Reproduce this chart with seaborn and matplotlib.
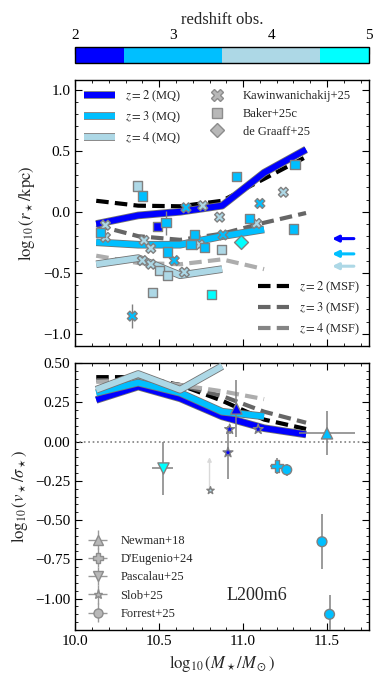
import numpy as np
import pandas as pd
import matplotlib
matplotlib.use("Agg")
import matplotlib.pyplot as plt
import matplotlib.patheffects as pe
from matplotlib.colors import ListedColormap, BoundaryNorm
from matplotlib.colorbar import ColorbarBase
from matplotlib.lines import Line2D
from matplotlib.legend_handler import HandlerErrorbar
from matplotlib.ticker import MultipleLocator
import seaborn as sns

# ---- simulation medians (mass bins) ----
mass_bins = [10.125, 10.375, 10.625, 10.875, 11.125, 11.375]

size_mq_z2 = [-0.10, -0.03, 0.00, 0.05, 0.32, 0.51]
size_mq_z3 = [-0.25, -0.27, -0.27, -0.20, -0.145]
size_mq_z4 = [-0.43, -0.38, -0.52, -0.47]
size_msf_z2 = [0.09, 0.05, 0.045, 0.09, 0.27, 0.45]
size_msf_z3 = [-0.11, -0.20, -0.23, -0.18, -0.09, -0.01]
size_msf_z4 = [-0.36, -0.42, -0.43, -0.39, -0.47]

vsig_mq_z2 = [0.265, 0.35, 0.275, 0.16, 0.085, 0.045]
vsig_mq_z3 = [0.31, 0.375, 0.31, 0.19, 0.16]
vsig_mq_z4 = [0.33, 0.43, 0.33, 0.48]
vsig_msf_z2 = [0.41, 0.41, 0.36, 0.26, 0.14, 0.08]
vsig_msf_z3 = [0.39, 0.39, 0.36, 0.29, 0.19, 0.12]
vsig_msf_z4 = [0.38, 0.39, 0.36, 0.32, 0.27]

# arrows on the right of the size panel
arrow_z = [2.2, 3.0, 4.0]
arrow_size = [-0.22, -0.345, -0.446]
arrow_x = [11.66, 11.53]

# ---- observations: sizes ----
kaw_mass = [10.18, 10.18, 10.41, 10.45, 10.59, 10.40, 10.45, 10.65, 10.66,
            10.76, 10.74, 10.86, 10.88, 11.08, 11.10, 11.24, 10.34]
kaw_size = [-0.11, -0.21, -0.235, -0.30, -0.40, -0.40, -0.43, -0.495, 0.033,
            0.05, -0.27, -0.044, -0.19, -0.096, 0.068, 0.16, -0.855]
kaw_z = [4, 4, 4, 4, 3, 4, 4, 4, 3, 4, 4, 4, 3, 4, 3, 4, 3]
kaw_err = [0, 0, 0, 0, 0, 0, 0, 0, 0, 0, 0, 0, 0, 0, 0, 0, 0.1]

baker_mass = [10.15, 10.49, 10.54, 10.55, 10.50, 10.55, 10.71, 10.69, 10.77,
              10.87, 11.04, 11.30, 10.46, 10.81, 10.37, 10.40, 10.96, 11.31]
baker_size = [-0.17, -0.118, -0.09, -0.33, -0.48, -0.52, -0.186, -0.27, -0.295,
              -0.31, -0.055, -0.14, -0.66, -0.68, 0.21, 0.128, 0.29, 0.39]
baker_z = [3, 2.2, 3, 3, 4, 4, 3, 3, 3, 4, 3, 3, 4, 4.8, 4, 3, 3, 3]
baker_err = [0, 0, 0.1, 0, 0, 0, 0, 0, 0, 0, 0, 0, 0, 0, 0, 0, 0, 0]

dg_mass = [10.99]
dg_size = [-0.25]
dg_z = [4.8]

# ---- observations: v/sigma ----
newman_mass = [10.96, 11.50]
newman_vsig = [0.21, 0.052]
newman_z = [2.2, 3]
newman_xerr = [0, 0.165]
newman_yerr = [0.18, 0.14]

deug_mass = [11.20]
deug_vsig = [-0.156]
deug_z = [3]
deug_xerr = [0.04]
deug_yerr = [0.05]

pasc_mass = [10.52]
pasc_vsig = [-0.17]
pasc_z = [4.8]
pasc_xerr = [0.06]
pasc_yerr = [0.17]

slob_mass = [10.92, 10.91, 11.09]
slob_vsig = [0.078, -0.07, 0.078]
slob_z = [2.2, 2.2, 2.2]
slob_yerr = [0.03, 0.17, 0.0]
slob_lim_mass = [10.80]
slob_lim_vsig = [-0.31]
slob_lim_top = [-0.10]

forrest_mass = [11.26, 11.47, 11.515]
forrest_vsig = [-0.18, -0.638, -1.10]
forrest_z = [3, 3, 3]
forrest_xerr = [0.02, 0.0, 0.03]
forrest_yerr = [0.04, 0.175, 0.12]

# ---- style ----
sns.set_style("ticks")
plt.rcParams['font.family'] = ['Liberation Serif', 'DejaVu Serif']
plt.rcParams['mathtext.fontset'] = 'stix'
plt.rcParams['xtick.direction'] = 'in'
plt.rcParams['ytick.direction'] = 'in'
plt.rcParams['xtick.top'] = True
plt.rcParams['ytick.right'] = True
plt.rcParams['xtick.minor.visible'] = True
plt.rcParams['ytick.minor.visible'] = True
plt.rcParams['xtick.major.size'] = 5
plt.rcParams['ytick.major.size'] = 5
plt.rcParams['xtick.minor.size'] = 2.5
plt.rcParams['ytick.minor.size'] = 2.5
plt.rcParams['axes.linewidth'] = 1.0
plt.rcParams['xtick.color'] = 'black'
plt.rcParams['ytick.color'] = 'black'
plt.rcParams['axes.edgecolor'] = 'black'

zcolors = ['blue', 'deepskyblue', 'lightblue', 'cyan']
cmap = ListedColormap(zcolors)
norm = BoundaryNorm([2, 2.5, 3.5, 4.5, 5], cmap.N)

fig = plt.figure(figsize=(3.8, 6.83), dpi=100)
ax1 = fig.add_axes([0.198, 0.4934, 0.773, 0.3895])
ax2 = fig.add_axes([0.198, 0.0776, 0.773, 0.3909])
cax = fig.add_axes([0.198, 0.9078, 0.773, 0.0234])

mq_lw = 4.3
msf_lw = 3.0
msf_dash = (0, (3.0, 1.5))
outline = [pe.Stroke(linewidth=mq_lw + 1.2, foreground='0.45'), pe.Normal()]


def draw_lines(ax, mq, msf):
    for vals, col in zip(msf, ['black', '0.4', '0.68']):
        sns.lineplot(x=mass_bins[:len(vals)], y=vals, ax=ax, color=col, lw=msf_lw,
                     linestyle=msf_dash, zorder=2)
    for vals, col in zip(mq, zcolors[:3]):
        sns.lineplot(x=mass_bins[:len(vals)], y=vals, ax=ax, color=col, lw=mq_lw,
                     path_effects=outline, solid_capstyle='butt', zorder=3)


def draw_points(ax, x, y, z, marker, s, zorder=5):
    df = pd.DataFrame({'x': x, 'y': y, 'z': z})
    sns.scatterplot(data=df, x='x', y='y', hue='z', palette=cmap, hue_norm=norm,
                    marker=marker, s=s, edgecolor='0.5', linewidth=1.0,
                    legend=False, ax=ax, zorder=zorder)


# ---- top panel ----
draw_lines(ax1, [size_mq_z2, size_mq_z3, size_mq_z4],
           [size_msf_z2, size_msf_z3, size_msf_z4])
ax1.errorbar(kaw_mass, kaw_size, yerr=kaw_err, fmt='none', ecolor='0.5', elinewidth=1, zorder=4)
ax1.errorbar(baker_mass, baker_size, yerr=baker_err, fmt='none', ecolor='0.5', elinewidth=1, zorder=4)
draw_points(ax1, kaw_mass, kaw_size, kaw_z, 'X', 50)
draw_points(ax1, baker_mass, baker_size, baker_z, 's', 45)
draw_points(ax1, dg_mass, dg_size, dg_z, 'D', 50)

for yv, zv in zip(arrow_size, arrow_z):
    ax1.annotate('', xy=(arrow_x[1], yv), xytext=(arrow_x[0], yv),
                 arrowprops=dict(arrowstyle='-|>', color=cmap(norm(zv)), lw=2.2,
                                 mutation_scale=9, shrinkA=0, shrinkB=0))

ax1.set_xlim(10.0, 11.75)
ax1.set_ylim(-1.1, 1.08)
ax1.xaxis.set_major_locator(MultipleLocator(0.5))
ax1.xaxis.set_minor_locator(MultipleLocator(0.1))
ax1.yaxis.set_major_locator(MultipleLocator(0.5))
ax1.yaxis.set_minor_locator(MultipleLocator(0.1))
ax1.tick_params(labelbottom=False, labelsize=11)
ax1.set_xlabel('')
ax1.set_ylabel(r'$\log_{10}(r_\star/{\rm kpc})$', fontsize=12)

mq_handles = [Line2D([], [], color=c, lw=mq_lw, path_effects=outline, solid_capstyle='butt')
              for c in zcolors[:3]]
obs_handles = [Line2D([], [], ls='none', marker=m, ms=ms, mfc='0.72', mec='0.55', mew=1.0)
               for m, ms in [('X', 8), ('s', 7.5), ('D', 7)]]
leg1 = ax1.legend(mq_handles + obs_handles,
                  [r'$z=2$ (MQ)', r'$z=3$ (MQ)', r'$z=4$ (MQ)',
                   'Kawinwanichakij+25', 'Baker+25c', 'de Graaff+25'],
                  loc='upper left', ncol=2, frameon=False, fontsize=9,
                  handlelength=2.5, columnspacing=1.6, labelspacing=0.45,
                  borderaxespad=0.3)
ax1.add_artist(leg1)
msf_handles = [Line2D([], [], color=c, lw=msf_lw, linestyle=msf_dash)
               for c in ['black', '0.4', '0.52']]
ax1.legend(msf_handles, [r'$z=2$ (MSF)', r'$z=3$ (MSF)', r'$z=4$ (MSF)'],
           loc='lower right', frameon=False, fontsize=9, handlelength=2.5,
           labelspacing=0.45, borderaxespad=0.3)

# ---- bottom panel ----
draw_lines(ax2, [vsig_mq_z2, vsig_mq_z3, vsig_mq_z4],
           [vsig_msf_z2, vsig_msf_z3, vsig_msf_z4])
ax2.axhline(0, color='0.5', ls=':', lw=1.2, zorder=1)

ebkw = dict(fmt='none', ecolor='0.5', elinewidth=1.1, zorder=4)
ax2.errorbar(newman_mass, newman_vsig, xerr=newman_xerr, yerr=newman_yerr, **ebkw)
ax2.errorbar(deug_mass, deug_vsig, xerr=deug_xerr, yerr=deug_yerr, **ebkw)
ax2.errorbar(pasc_mass, pasc_vsig, xerr=pasc_xerr, yerr=pasc_yerr, **ebkw)
ax2.errorbar(slob_mass, slob_vsig, yerr=slob_yerr, **ebkw)
ax2.errorbar(forrest_mass, forrest_vsig, xerr=forrest_xerr, yerr=forrest_yerr, **ebkw)
for xv, yv, yt in zip(slob_lim_mass, slob_lim_vsig, slob_lim_top):
    ax2.annotate('', xy=(xv, yt), xytext=(xv, yv),
                 arrowprops=dict(arrowstyle='-|>', color='0.85', lw=1.0,
                                 mutation_scale=6, shrinkA=0, shrinkB=0))

draw_points(ax2, newman_mass, newman_vsig, newman_z, '^', 65)
draw_points(ax2, deug_mass, deug_vsig, deug_z, 'P', 65)
draw_points(ax2, pasc_mass, pasc_vsig, pasc_z, 'v', 65)
draw_points(ax2, slob_mass, slob_vsig, slob_z, '*', 55)
draw_points(ax2, slob_lim_mass, slob_lim_vsig, [4.0], '*', 30)
draw_points(ax2, forrest_mass, forrest_vsig, forrest_z, 'o', 50)

ax2.set_xlim(10.0, 11.75)
ax2.set_ylim(-1.2, 0.5)
ax2.xaxis.set_major_locator(MultipleLocator(0.5))
ax2.xaxis.set_minor_locator(MultipleLocator(0.1))
ax2.yaxis.set_major_locator(MultipleLocator(0.25))
ax2.yaxis.set_minor_locator(MultipleLocator(0.05))
ax2.tick_params(labelsize=11)
ax2.set_xlabel(r'$\log_{10}(M_\star/M_\odot)$', fontsize=12)
ax2.set_ylabel(r'$\log_{10}(v_\star/\sigma_\star)$', fontsize=12)

obs2_handles = []
for m in ['^', 'P', 'v', '*', 'o']:
    h = ax2.errorbar([], [], xerr=[], yerr=[], fmt=m, ms=6.5, mfc='0.72', mec='0.55',
                     ecolor='0.6', elinewidth=1.0)
    obs2_handles.append(h)
ax2.legend(obs2_handles, ['Newman+18', "D'Eugenio+24", 'Pascalau+25', 'Slob+25', 'Forrest+25'],
           loc='lower left', frameon=False, fontsize=9, handlelength=2.0,
           labelspacing=0.5, borderaxespad=0.4,
           handler_map={type(obs2_handles[0]): HandlerErrorbar(xerr_size=0.75, yerr_size=0.75)})
ax2.text(11.08, -0.98, 'L200m6', fontsize=13, ha='center', va='center')

# ---- colorbar ----
cb = ColorbarBase(cax, cmap=cmap, norm=norm, orientation='horizontal',
                  spacing='proportional', ticks=[2, 3, 4, 5], ticklocation='top')
cb.set_label('redshift obs.', fontsize=12)
cax.tick_params(direction='in', labelsize=11, length=5, which='major')
cax.minorticks_off()
cb.outline.set_linewidth(1.0)

fig.savefig('out.png', dpi=100)
